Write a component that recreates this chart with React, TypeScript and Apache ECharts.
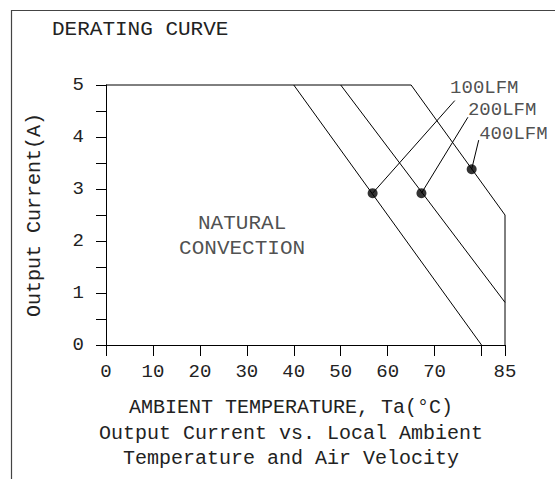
import React, { useEffect, useRef } from "react";
import * as echarts from "echarts";

const FONT = "Liberation Mono";
const INK = "#222";

const xTickLabels = [0, 10, 20, 30, 40, 50, 60, 70, 85];
const yTickLabels = [0, 1, 2, 3, 4, 5];

const curve100 = [[40, 5], [80, 0]];
const curve200 = [[50, 5], [85, 0.82]];
const curve400 = [[0, 5], [65, 5], [85, 2.5], [85, 0]];

const markers = [[56.8, 2.92], [67.2, 2.92], [77.9, 3.38]];
const leaderEnds = [[74.3, 4.7], [77.1, 4.38], [79.4, 3.94]];
const labelNames = ["100LFM", "200LFM", "400LFM"];
const labelAnchors = [[73.2, 4.94], [77.0, 4.52], [79.4, 4.06]];

const regionText = ["NATURAL", "CONVECTION"];
const regionAnchor = [29, 2.09];

const titleText = "DERATING CURVE";
const xName = "AMBIENT TEMPERATURE, Ta(°C)";
const yName = "Output Current(A)";
const captionLines = ["Output Current vs. Local Ambient", "Temperature and Air Velocity"];

export default function App() {
  const ref = useRef<HTMLDivElement>(null);
  useEffect(() => {
    if (!ref.current) return;
    const chart = echarts.init(ref.current, undefined, { renderer: "svg" });
    const lineStyle = { color: "#000", width: 1 };
    const curveSeries = [curve100, curve200, curve400].map((d, i) => ({
      type: "line",
      name: labelNames[i],
      data: d,
      symbol: "none",
      lineStyle,
      silent: true,
      clip: false,
    }));
    const leaderSeries = markers.map((m, i) => ({
      type: "line",
      data: [m, leaderEnds[i]],
      symbol: "none",
      lineStyle,
      silent: true,
      clip: false,
    }));
    chart.setOption({
      animation: false,
      backgroundColor: "#fff",
      title: {
        text: titleText,
        left: 47,
        top: 14,
        textStyle: { fontFamily: FONT, fontSize: 21, fontWeight: "normal", color: INK },
      },
      grid: { left: 106, right: 50, top: 85, bottom: 134, containLabel: false, outerBoundsMode: "none" },
      xAxis: {
        type: "value",
        min: 0,
        max: 85,
        interval: 10,
        name: xName,
        nameLocation: "middle",
        nameGap: 52,
        nameTextStyle: { fontFamily: FONT, fontSize: 20, color: INK, padding: [0, 29, 0, 0] },
        axisLine: { lineStyle: { color: "#000", width: 1 } },
        axisTick: { length: 11, lineStyle: { color: "#000" } },
        splitLine: { show: false },
        axisLabel: {
          fontFamily: FONT,
          fontSize: 19,
          color: INK,
          margin: 17,
          showMaxLabel: true,
          hideOverlap: false,
          formatter: (v: number) => (xTickLabels.includes(v) ? String(v) : ""),
        },
      },
      yAxis: {
        type: "value",
        min: 0,
        max: 5,
        interval: 0.5,
        name: yName,
        nameLocation: "middle",
        nameGap: 62,
        nameTextStyle: { fontFamily: FONT, fontSize: 20, color: INK },
        axisLine: { show: true, lineStyle: { color: "#000", width: 1 } },
        axisTick: { show: true, length: 10, lineStyle: { color: "#000" } },
        splitLine: { show: false },
        axisLabel: {
          fontFamily: FONT,
          fontSize: 19,
          color: INK,
          margin: 22,
          formatter: (v: number) => (yTickLabels.includes(v) ? String(v) : ""),
        },
      },
      series: [
        ...curveSeries,
        ...leaderSeries,
        {
          type: "scatter",
          data: markers,
          symbol: "circle",
          symbolSize: 10,
          itemStyle: { color: "#000" },
          silent: true,
        },
        {
          type: "scatter",
          data: labelAnchors.map((p, i) => ({ value: p, name: labelNames[i] })),
          symbolSize: 1,
          itemStyle: { color: "transparent" },
          silent: true,
          label: {
            show: true,
            position: "right",
            distance: 0,
            formatter: (p: any) => p.name,
            fontFamily: FONT,
            fontSize: 19,
            color: INK,
          },
        },
        {
          type: "scatter",
          data: [{ value: regionAnchor, name: regionText.join("\n") }],
          symbolSize: 1,
          itemStyle: { color: "transparent" },
          silent: true,
          label: {
            show: true,
            position: "inside",
            formatter: (p: any) => p.name,
            fontFamily: FONT,
            fontSize: 21,
            lineHeight: 25,
            align: "center",
            verticalAlign: "middle",
            color: INK,
          },
        },
      ],
      graphic: [
        {
          type: "polyline",
          shape: { points: [[11.5, 479], [11.5, 10.5], [555, 10.5]] },
          style: { stroke: "#444", lineWidth: 1.2, fill: "none" },
          silent: true,
        },
        ...captionLines.map((t, i) => ({
          type: "text",
          x: 291,
          y: 433 + i * 25,
          style: {
            text: t,
            fontFamily: FONT,
            fontSize: 20,
            fill: INK,
            align: "center",
            verticalAlign: "middle",
          },
          silent: true,
        })),
      ],
    });
    return () => chart.dispose();
  }, []);
  return (
    <div
      ref={ref}
      style={{ position: "absolute", left: 0, top: 0, width: 555, height: 479, background: "#fff" }}
    />
  );
}
